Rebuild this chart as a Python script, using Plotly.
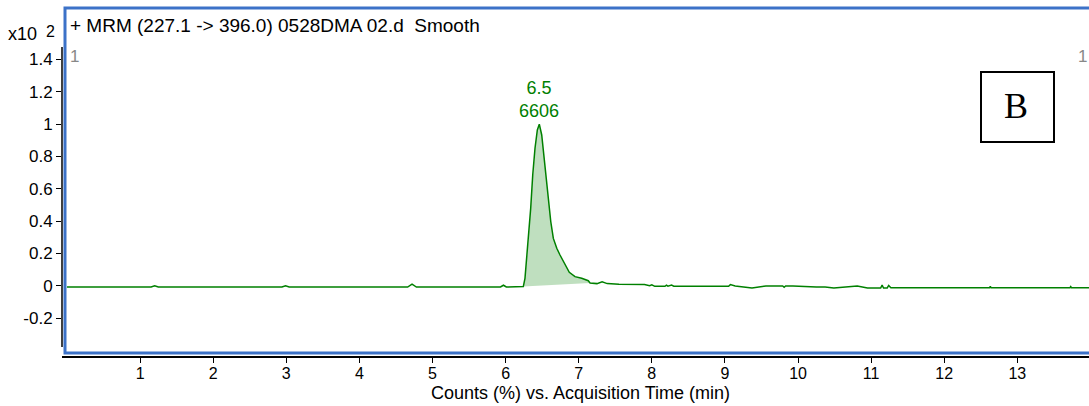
import plotly.graph_objects as go

# ---- data ----
time_min = [0.0, 1.15, 1.20, 1.25, 2.94, 2.99, 3.04, 4.66, 4.72, 4.78, 5.93, 5.97, 6.01,
            6.22, 6.242, 6.265, 6.311, 6.343, 6.371, 6.402, 6.434, 6.461, 6.494, 6.516,
            6.553, 6.585, 6.618, 6.653, 6.700, 6.744, 6.813, 6.871, 6.949, 7.041, 7.131,
            7.155, 7.25, 7.32, 7.39, 7.55, 7.90, 7.97, 8.00, 8.04, 8.18, 8.20, 8.22, 8.27,
            8.30, 8.38, 9.05, 9.075, 9.14, 9.37, 9.56, 9.79, 9.81, 9.83, 9.93, 10.25, 10.37,
            10.49, 10.81, 10.95, 11.13, 11.15, 11.17, 11.22, 11.24, 11.27, 12.62, 12.63,
            12.64, 13.72, 13.73, 13.74, 14.0]
counts_pct = [-0.008, -0.008, 0.0, -0.008, -0.008, 0.0, -0.008, -0.008, 0.010, -0.008,
              -0.008, 0.003, -0.008,
              -0.008, -0.005, 0.046, 0.272, 0.479, 0.685, 0.851, 0.964, 1.0, 0.933, 0.830,
              0.685, 0.541, 0.396, 0.293, 0.232, 0.190, 0.128, 0.083, 0.056, 0.046, 0.031,
              0.017, 0.013, 0.024, 0.013, 0.009, 0.008, 0.0, 0.006, -0.004, -0.004, 0.003,
              -0.003, 0.004, -0.003, -0.003, -0.003, 0.007, -0.002, -0.014, -0.002, -0.002,
              -0.010, -0.002, -0.002, -0.008, -0.008, -0.014, -0.002, -0.014, -0.014,
              0.004, -0.014, -0.014, 0.002, -0.012, -0.012, -0.004, -0.012, -0.012, -0.005,
              -0.012, -0.012]

peak_start, peak_end = 6.242, 7.155
peak_rt_label = "6.5"
peak_area_label = "6606"
x_ticks = list(range(1, 14))
y_ticks = [-0.2, 0, 0.2, 0.4, 0.6, 0.8, 1.0, 1.2, 1.4]
y_tick_text = ["-0.2", "0", "0.2", "0.4", "0.6", "0.8", "1", "1.2", "1.4"]

GREEN = "rgb(0,128,0)"
BLUE = "rgb(60,114,200)"
FONT = "Arial, Liberation Sans, sans-serif"

fill_x = [t for t in time_min if peak_start <= t <= peak_end]
fill_y = [v for t, v in zip(time_min, counts_pct) if peak_start <= t <= peak_end]

fig = go.Figure()
fig.add_trace(go.Scatter(x=fill_x, y=fill_y, mode="lines", fill="toself",
                         fillcolor="rgba(0,128,0,0.25)", line=dict(width=0),
                         hoverinfo="skip", showlegend=False))
fig.add_trace(go.Scatter(x=time_min, y=counts_pct, mode="lines",
                         line=dict(color=GREEN, width=1.5), showlegend=False))

ipk = counts_pct.index(max(counts_pct))
fig.add_annotation(x=time_min[ipk], y=counts_pct[ipk], xref="x", yref="y",
                   text=peak_rt_label + "<br>" + peak_area_label, showarrow=False,
                   xanchor="center", yanchor="bottom", yshift=1,
                   font=dict(color=GREEN, size=18, family=FONT))

W, H = 1089, 406
L, R, T, B = 62, 0, 8, 50
pw, ph = W - L - R, H - T - B


def px(x):
    return (x - L) / pw


def py(y):
    return (H - B - y) / ph


def txt(x, y, s, size=18, color="black", xa="left", family=FONT):
    fig.add_annotation(xref="paper", yref="paper", x=px(x), y=py(y), text=s,
                       showarrow=False, xanchor=xa, yanchor="middle",
                       font=dict(family=family, size=size, color=color))


# blue frame
fig.add_shape(type="rect", xref="paper", yref="paper", x0=px(65), x1=px(1095),
              y0=py(353), y1=py(8), line=dict(color=BLUE, width=3), layer="above")
# y axis line
fig.add_shape(type="line", xref="paper", yref="paper", x0=0, x1=0, y0=py(347), y1=py(47),
              line=dict(color="black", width=1.5))
# B box
fig.add_shape(type="rect", xref="paper", yref="paper", x0=px(981), x1=px(1054),
              y0=py(142), y1=py(72), line=dict(color="black", width=2), fillcolor="white")
txt(1016, 106, "B", size=36, xa="center", family="Liberation Serif, Times New Roman, serif")
# header texts
txt(68, 26, "+ MRM (227.1 -> 396.0) 0528DMA 02.d  Smooth", size=19)
txt(68, 57, "1", size=17, color="#888888")
txt(1089, 57, "1", size=17, color="#888888", xa="right")
txt(39, 34, "x10", size=18, xa="right")
txt(44, 31, "2", size=16)
txt(580, 393, "Counts (%) vs. Acquisition Time (min)", size=18, xa="center")

fig.update_layout(
    width=W, height=H, margin=dict(l=L, r=R, t=T, b=B),
    paper_bgcolor="white", plot_bgcolor="white",
    font=dict(family=FONT, size=17, color="black"),
    xaxis=dict(range=[-0.068, 13.98], tickvals=x_ticks, showgrid=False, zeroline=False,
               showline=True, linecolor="black", linewidth=1.5, ticks="outside",
               ticklen=5, tickcolor="black", tickwidth=1, ticklabelstandoff=-3,
               tickfont=dict(size=16)),
    yaxis=dict(range=[-0.435, 1.719], tickvals=y_ticks, ticktext=y_tick_text,
               showgrid=False, zeroline=False, showline=False, ticks="outside",
               ticklen=5, tickcolor="black", tickwidth=1),
)

fig.write_html("out.html")
